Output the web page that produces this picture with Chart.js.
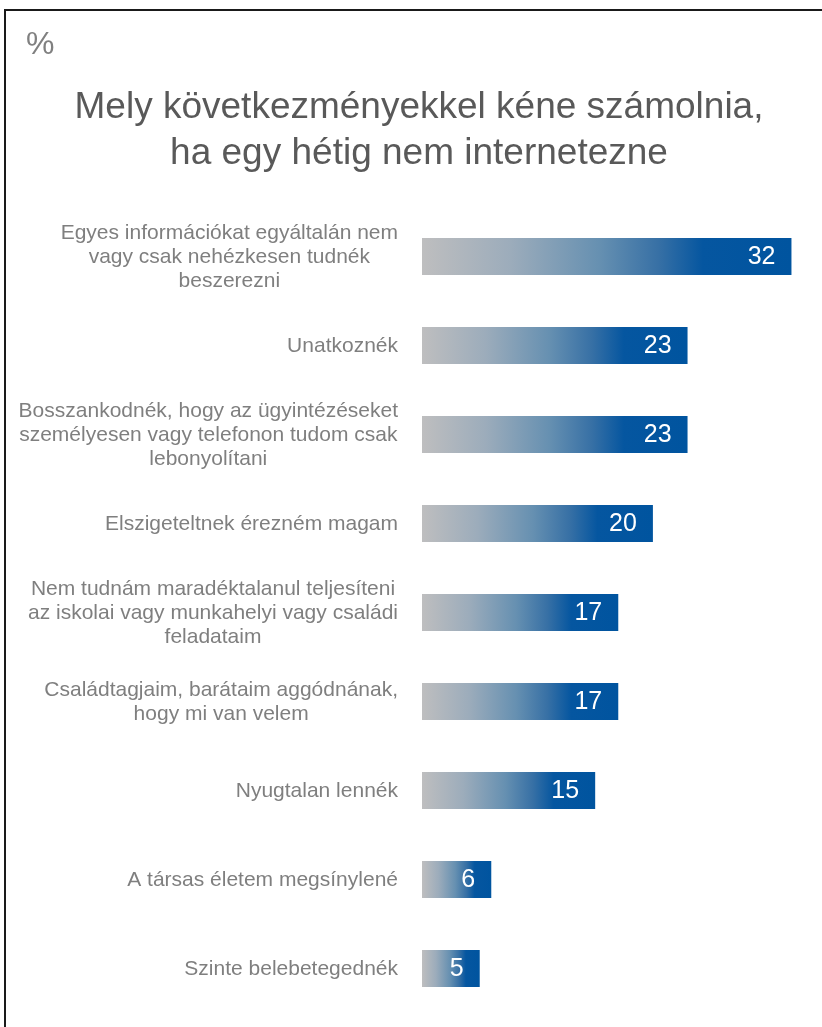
<!DOCTYPE html>
<html>
<head>
<meta charset="utf-8">
<script src="https://cdn.jsdelivr.net/npm/chart.js@4"></script>
<style>
  html, body { margin: 0; padding: 0; background: #ffffff; }
  #wrap { position: relative; width: 822px; height: 1027px; overflow: hidden; }
  #frame { position: absolute; left: 4px; top: 9px; width: 900px; height: 1100px;
           border-left: 2px solid #1a1a1a; border-top: 2px solid #1a1a1a; }
  #c { position: absolute; left: 0; top: 0; }
</style>
</head>
<body>
<div id="wrap">
  <div id="frame"></div>
  <canvas id="c" width="822" height="1027"></canvas>
</div>
<script>
// Unit marker and chart question
const unitLabel = '%';
const titleLines = [
  'Mely következményekkel kéne számolnia,',
  'ha egy hétig nem internetezne'
];

// Answer options (one array of lines per bar)
const categories = [
  ['Egyes információkat egyáltalán nem', 'vagy csak nehézkesen tudnék', 'beszerezni'],
  ['Unatkoznék'],
  ['Bosszankodnék, hogy az ügyintézéseket', 'személyesen vagy telefonon tudom csak', 'lebonyolítani'],
  ['Elszigeteltnek érezném magam'],
  ['Nem tudnám maradéktalanul teljesíteni', 'az iskolai vagy munkahelyi vagy családi', 'feladataim'],
  ['Családtagjaim, barátaim aggódnának,', 'hogy mi van velem'],
  ['Nyugtalan lennék'],
  ['A társas életem megsínylené'],
  ['Szinte belebetegednék']
];

// Share of respondents, %
const values = [32, 23, 23, 20, 17, 17, 15, 6, 5];

const FONT = '"Liberation Sans", Arial, Helvetica, sans-serif';

// Horizontal grey-to-blue fill, stretched over each bar's own length
function barFill(c) {
  const chart = c.chart;
  if (!chart.chartArea || c.type !== 'data') return '#00549F';
  const xs = chart.scales.x;
  const x0 = xs.getPixelForValue(0);
  const x1 = xs.getPixelForValue(values[c.dataIndex]);
  const g = chart.ctx.createLinearGradient(x0, 0, x1, 0);
  g.addColorStop(0.00, '#BEBEBF');
  g.addColorStop(0.24, '#9CACBB');
  g.addColorStop(0.48, '#6690B1');
  g.addColorStop(0.64, '#3770A5');
  g.addColorStop(0.76, '#0556A0');
  g.addColorStop(1.00, '#00549F');
  return g;
}

// Draws the heading, the category captions and the value tags
const textPlugin = {
  id: 'textPlugin',
  afterDatasetsDraw(chart) {
    const ctx = chart.ctx;
    const ys = chart.scales.y;
    ctx.save();

    // unit marker
    ctx.fillStyle = '#808080';
    ctx.font = '32px ' + FONT;
    ctx.textAlign = 'left';
    ctx.textBaseline = 'middle';
    ctx.fillText(unitLabel, 26, 45);

    // title
    ctx.fillStyle = '#595959';
    ctx.font = '37px ' + FONT;
    ctx.textAlign = 'center';
    ctx.textBaseline = 'middle';
    titleLines.forEach((t, i) => ctx.fillText(t, 419, 108 + i * 46));

    // category captions: block right-aligned to the bars, lines centred inside it
    ctx.fillStyle = '#7F7F7F';
    ctx.font = '21px ' + FONT;
    const lineH = 24;
    const right = 398;
    categories.forEach((lines, i) => {
      const yc = ys.getPixelForValue(i);
      const w = Math.max(...lines.map(l => ctx.measureText(l).width));
      const cx = right - w / 2;
      lines.forEach((l, k) => {
        ctx.fillText(l, cx, yc + 1 + (k - (lines.length - 1) / 2) * lineH);
      });
    });

    // value tags inside the bar ends
    ctx.fillStyle = '#FFFFFF';
    ctx.font = '25px ' + FONT;
    ctx.textAlign = 'right';
    const meta = chart.getDatasetMeta(0);
    meta.data.forEach((bar, i) => {
      ctx.fillText(String(values[i]), bar.x - 16, bar.y + 1);
    });
    ctx.restore();
  }
};

new Chart(document.getElementById('c'), {
  type: 'bar',
  data: {
    labels: categories,
    datasets: [{
      data: values,
      backgroundColor: barFill,
      borderWidth: 0,
      categoryPercentage: 1,
      barPercentage: 0.413
    }]
  },
  options: {
    indexAxis: 'y',
    responsive: false,
    animation: false,
    layout: { padding: { left: 422, top: 212, right: 19, bottom: 14 } },
    scales: {
      x: { display: false, min: 0, max: 33 },
      y: { display: false }
    },
    plugins: {
      legend: { display: false },
      tooltip: { enabled: false },
      title: { display: false }
    }
  },
  plugins: [textPlugin]
});
</script>
</body>
</html>
